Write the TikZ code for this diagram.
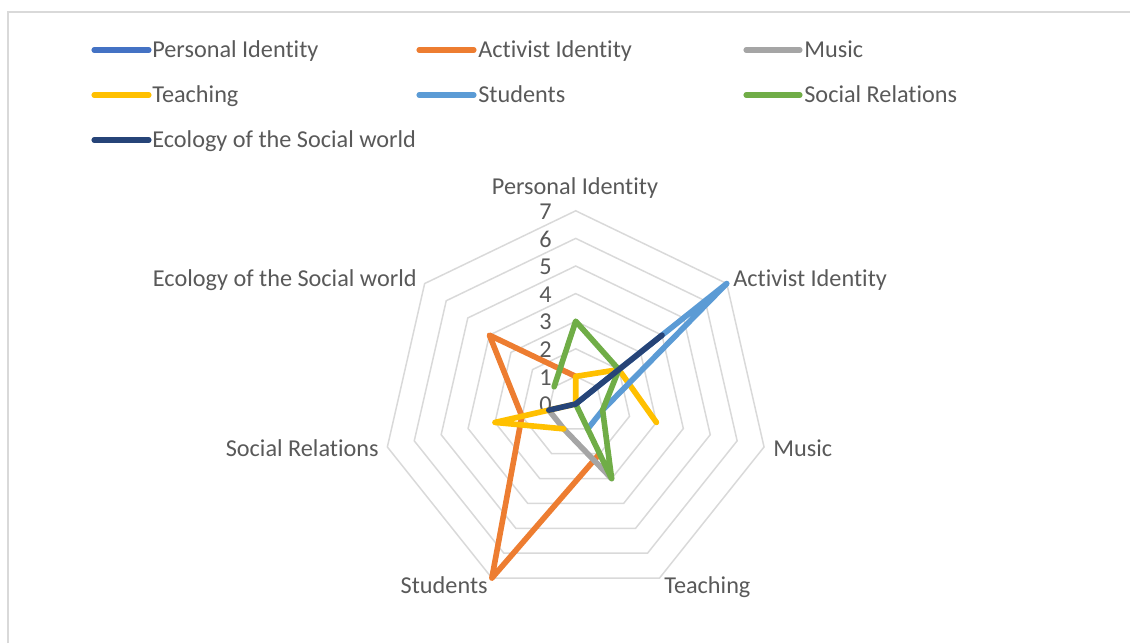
\documentclass[tikz,border=0pt]{standalone}
\usepackage{fontspec}
\setmainfont{Carlito}[Ligatures={NoCommon}]
\usetikzlibrary{calc}
\definecolor{txt}{HTML}{595959}
\definecolor{grid}{HTML}{D9D9D9}
\definecolor{cPI}{HTML}{4472C4}
\definecolor{cAI}{HTML}{ED7D31}
\definecolor{cMU}{HTML}{A5A5A5}
\definecolor{cTE}{HTML}{FFC000}
\definecolor{cST}{HTML}{5B9BD5}
\definecolor{cSR}{HTML}{70AD47}
\definecolor{cEC}{HTML}{264478}
\begin{document}
\begin{tikzpicture}[x=0.02cm,y=0.02cm,
  lbl/.style={inner sep=0pt,text=txt,font=\fontsize{13.8pt}{15pt}\selectfont},
  ring/.style={draw=grid,line width=0.85pt},
  series/.style={line width=3.2pt,line cap=round,line join=round},
  legline/.style={line width=2.9pt,line cap=round}]
\useasboundingbox (0,0) rectangle (1130,643);
\draw[grid,line width=1.1pt] (8,0) -- (8,631) -- (1130,631);
% centre and grid points
\coordinate (C) at (575.7,239);
\foreach \k in {0,...,6}{
  \foreach \v in {0,...,7}{
    \coordinate (p-\k-\v) at ($(C)+({90-\k*360/7}:{\v*27.6})$);
  }
}
% rings
\foreach \v in {1,...,7}{
  \draw[ring] (p-0-\v) -- (p-1-\v) -- (p-2-\v) -- (p-3-\v) -- (p-4-\v) -- (p-5-\v) -- (p-6-\v) -- cycle;
}
% tick labels
\foreach \v in {0,...,7}{
  \node[lbl,anchor=mid east] (t\v) at (552,{234.5+\v*27.6}) {\v};
}
% axis labels
\node[lbl,anchor=mid] (aPI) at (575,453) {Personal Identity};
\node[lbl,anchor=mid west] (aAI) at (733,361) {Activist Identity};
\node[lbl,anchor=mid west] (aMU) at (773,191) {Music};
\node[lbl,anchor=mid west] (aTE) at (664,54) {Teaching};
\node[lbl,anchor=mid east] (aST) at (488,54) {Students};
\node[lbl,anchor=mid east] (aSR) at (379,191) {Social Relations};
\node[lbl,anchor=mid east] (aEC) at (417,361) {Ecology of the Social world};
% series
\draw[series,cAI] (p-3-2) -- (p-4-7) -- (p-5-2) -- (p-6-4) -- (p-0-1);
\draw[series,cMU] (p-5-1) -- (p-4-1) -- (p-3-3);
\draw[series,cTE] (p-2-3) -- (p-1-2) -- (p-0-1) -- (p-6-0) -- (p-5-3) -- (p-4-1);
\draw[series,cST] (p-3-1) -- (p-2-1) -- (p-1-7) -- (p-0-0);
\draw[series,cSR] (p-6-1) -- (p-0-3) -- (p-1-2) -- (p-2-1) -- (p-3-3) -- (p-4-0);
\draw[series,cEC] (p-5-1) -- (p-4-0) -- (p-1-4);
% legend
\coordinate (l1a) at (94,593); \coordinate (l1b) at (149,593);
\coordinate (l2a) at (419,593); \coordinate (l2b) at (474,593);
\coordinate (l3a) at (746,593); \coordinate (l3b) at (800,593);
\coordinate (l4a) at (94,548); \coordinate (l4b) at (149,548);
\coordinate (l5a) at (419,548); \coordinate (l5b) at (474,548);
\coordinate (l6a) at (746,548); \coordinate (l6b) at (800,548);
\coordinate (l7a) at (94,503); \coordinate (l7b) at (149,503);
\draw[legline,cPI] (l1a) -- (l1b);
\draw[legline,cAI] (l2a) -- (l2b);
\draw[legline,cMU] (l3a) -- (l3b);
\draw[legline,cTE] (l4a) -- (l4b);
\draw[legline,cST] (l5a) -- (l5b);
\draw[legline,cSR] (l6a) -- (l6b);
\draw[legline,cEC] (l7a) -- (l7b);
\node[lbl,anchor=mid west] (g1) at (152,590) {Personal Identity};
\node[lbl,anchor=mid west] (g2) at (478,590) {Activist Identity};
\node[lbl,anchor=mid west] (g3) at (804,590) {Music};
\node[lbl,anchor=mid west] (g4) at (152,545) {Teaching};
\node[lbl,anchor=mid west] (g5) at (478,545) {Students};
\node[lbl,anchor=mid west] (g6) at (804,545) {Social Relations};
\node[lbl,anchor=mid west] (g7) at (152,500) {Ecology of the Social world};
\end{tikzpicture}
\end{document}
